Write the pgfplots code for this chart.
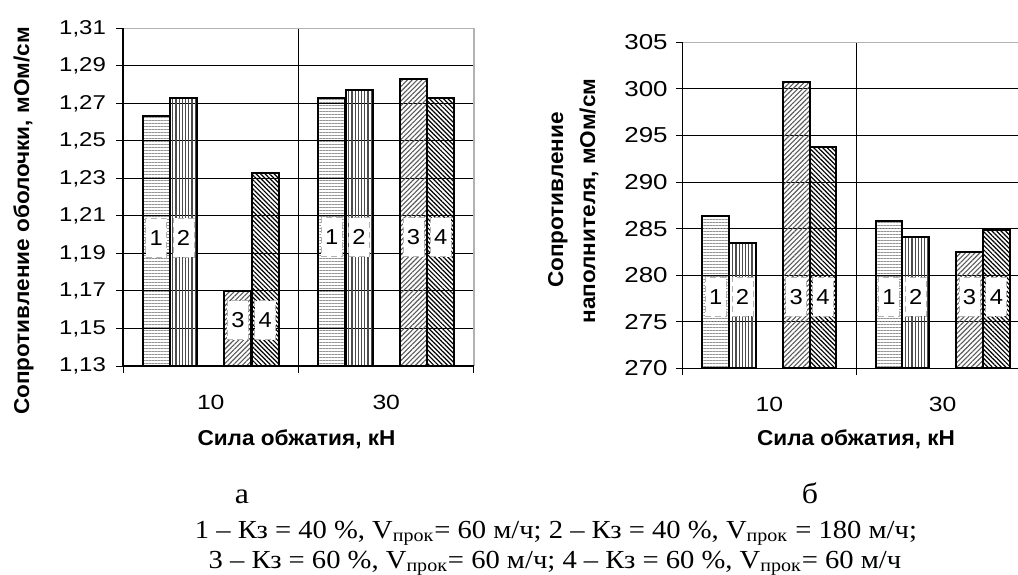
\documentclass[border=0pt]{standalone}
\usepackage{fontspec}
\setmainfont{Liberation Serif}
\newfontfamily\capfont{Liberation Serif}[FakeStretch=1.1]
\newfontfamily\tickfont{Liberation Sans}[FakeStretch=1.2]
\newfontfamily\lblfont{Liberation Sans}[FakeStretch=1.05]
\newfontfamily\numfont{Liberation Sans}[FakeStretch=1.1]
\usepackage{pgfplots}
\pgfplotsset{compat=1.18}
\usetikzlibrary{patterns.meta}
\pgfplotsset{
 barbase/.style={ybar, bar width=0.154, bar shift=0pt, draw=black, line width=1pt},
 s1/.style={barbase, pattern={Lines[angle=0,distance=1.5pt,line width=0.5pt]}, pattern color=gray!85},
 s2/.style={barbase, pattern={Lines[angle=90,distance=1.6pt,line width=0.6pt]}, pattern color=gray!60!black},
 s3/.style={barbase, pattern={Lines[angle=45,distance=1.7pt,line width=0.55pt]}, pattern color=gray!70!black},
 s4/.style={barbase, pattern={Lines[angle=-45,distance=1.6pt,line width=0.6pt]}, pattern color=black},
 excel/.style={scale only axis, anchor=south west, xmin=0, xmax=2,
   /pgf/number format/assume math mode=true,
   axis line style={draw=none}, tick align=outside, tick pos=left,
   major tick length=3.5pt, tick style={black,line width=0.5pt},
   xtick={0,1,2}, xticklabels={,,},
   extra x ticks={0.5,1.5}, extra x tick labels={10,30},
   extra x tick style={major tick length=0pt},
   xticklabel style={font=\tickfont\fontsize{10.3}{11}\selectfont, yshift=-11pt},
   ymajorgrids, major grid style={black,line width=0.5pt},
   clip mode=individual}
}
\tikzset{numbox/.style={fill=white, draw=gray!60, densely dashed, line width=0.4pt, inner sep=0pt,
   minimum width=10.5pt, minimum height=19.5pt, font=\numfont\fontsize{10.8}{12}\selectfont}}
\begin{document}
\begin{tikzpicture}
\path[use as bounding box] (0,0) rectangle (509pt,287pt);
\clip (0,0) rectangle (509pt,287pt);
% ---------- left chart (a) ----------
\begin{axis}[excel, at={(61.5pt,104pt)}, width=175.5pt, height=168.85pt,
  ymin=1.13, ymax=1.31,
  ytick={1.13,1.15,1.17,1.19,1.21,1.23,1.25,1.27,1.29,1.31},
  yticklabels={{1,13},{1,15},{1,17},{1,19},{1,21},{1,23},{1,25},{1,27},{1,29},{1,31}},
  yticklabel style={font=\tickfont\fontsize{10}{11}\selectfont, xshift=-1.5pt}]
\draw[black,line width=0.5pt] (axis cs:1,1.13) -- (axis cs:1,1.31);
\addplot[s1] coordinates {(0.19,1.263) (1.19,1.273)};
\addplot[s2] coordinates {(0.345,1.273) (1.345,1.277)};
\addplot[s3] coordinates {(0.655,1.170) (1.655,1.283)};
\addplot[s4] coordinates {(0.81,1.233) (1.81,1.273)};
\draw[gray!60,line width=0.75pt] (rel axis cs:0,1) -- (rel axis cs:1,1) -- (rel axis cs:1,0);
\draw[black,line width=0.6pt] (rel axis cs:0,1) -- (rel axis cs:0,0) -- (rel axis cs:1,0);
\node[numbox] at (axis cs:0.19,1.1984) {1};
\node[numbox] at (axis cs:0.345,1.1984) {2};
\node[numbox] at (axis cs:0.655,1.1544) {3};
\node[numbox] at (axis cs:0.81,1.1544) {4};
\node[numbox] at (axis cs:1.19,1.1987) {1};
\node[numbox] at (axis cs:1.345,1.1987) {2};
\node[numbox] at (axis cs:1.655,1.1987) {3};
\node[numbox] at (axis cs:1.81,1.1987) {4};
\end{axis}
% ---------- right chart (b) ----------
\begin{axis}[excel, at={(341.35pt,102.8pt)}, width=173.3pt, height=163.05pt,
  ymin=270, ymax=305,
  ytick={270,275,280,285,290,295,300,305},
  yticklabels={270,275,280,285,290,295,300,305},
  yticklabel style={font=\tickfont\fontsize{10.8}{12}\selectfont, xshift=-0.5pt}]
\draw[black,line width=0.5pt] (axis cs:1,270) -- (axis cs:1,305);
\addplot[s1] coordinates {(0.19,286.4) (1.19,285.8)};
\addplot[s2] coordinates {(0.345,283.5) (1.345,284.1)};
\addplot[s3] coordinates {(0.655,300.7) (1.655,282.5)};
\addplot[s4] coordinates {(0.81,293.8) (1.81,284.9)};
\draw[gray!60,line width=0.75pt] (rel axis cs:0,1) -- (rel axis cs:1,1) -- (rel axis cs:1,0);
\draw[black,line width=0.6pt] (rel axis cs:0,1) -- (rel axis cs:0,0) -- (rel axis cs:1,0);
\node[numbox] at (axis cs:0.19,277.7) {1};
\node[numbox] at (axis cs:0.345,277.7) {2};
\node[numbox] at (axis cs:0.655,277.7) {3};
\node[numbox] at (axis cs:0.81,277.7) {4};
\node[numbox] at (axis cs:1.19,277.7) {1};
\node[numbox] at (axis cs:1.345,277.7) {2};
\node[numbox] at (axis cs:1.655,277.7) {3};
\node[numbox] at (axis cs:1.81,277.7) {4};
\end{axis}
\begin{scope}[x=0.5pt,y=0.5pt]
% ---------- axis titles ----------
\node[anchor=base, font=\lblfont\bfseries\fontsize{10.75}{12}\selectfont] at (296.5,129) {Сила обжатия, кН};
\node[anchor=base, font=\lblfont\bfseries\fontsize{10.75}{12}\selectfont] at (856,129) {Сила обжатия, кН};
\node[anchor=base, rotate=90, font=\lblfont\bfseries\fontsize{10.75}{12}\selectfont] at (29,353) {Сопротивление оболочки, мОм/см};
\node[anchor=base, rotate=90, font=\lblfont\bfseries\fontsize{10.75}{12}\selectfont] at (563,374) {Сопротивление};
\node[anchor=base, rotate=90, font=\lblfont\bfseries\fontsize{10.75}{12}\selectfont] at (595,373) {наполнителя, мОм/см};
% ---------- caption ----------
\node[anchor=base, font=\capfont\fontsize{14.5}{16}\selectfont] at (242,71) {а};
\node[anchor=base, font=\capfont\fontsize{14.5}{16}\selectfont] at (810,71) {б};
\node[anchor=base, font=\capfont\fontsize{13}{15}\selectfont] at (556,36) {1 – Кз = 40 \%, V\textsubscript{прок}= 60 м/ч; 2 – Кз = 40 \%, V\textsubscript{прок} = 180 м/ч;};
\node[anchor=base, font=\capfont\fontsize{13}{15}\selectfont] at (555,6) {3 – Кз = 60 \%, V\textsubscript{прок}= 60 м/ч; 4 – Кз = 60 \%, V\textsubscript{прок}= 60 м/ч};
\end{scope}
\end{tikzpicture}
\end{document}
